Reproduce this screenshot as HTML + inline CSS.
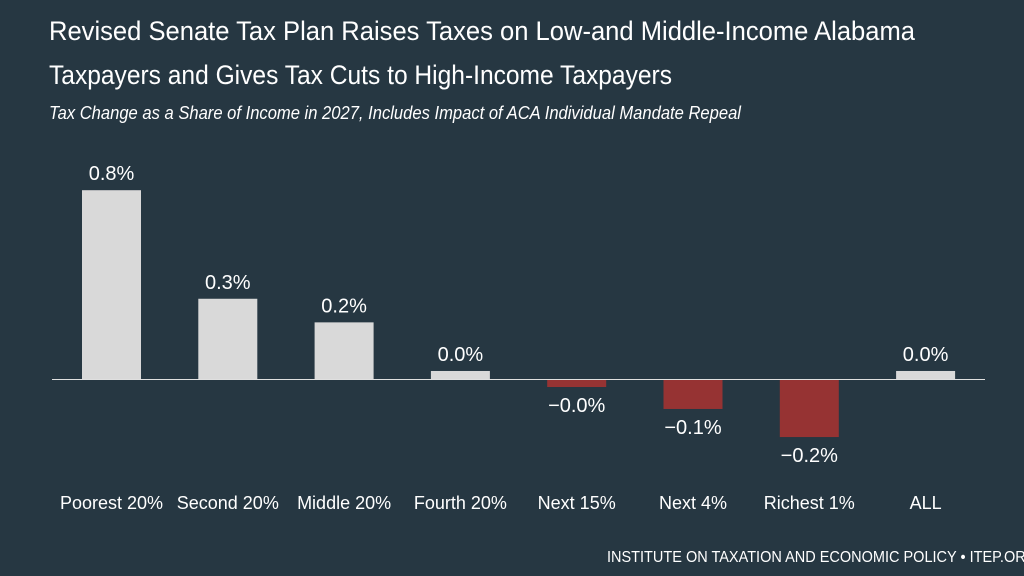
<!DOCTYPE html>
<html><head><meta charset="utf-8"><style>
html,body{margin:0;padding:0;background:#263742;}
svg{display:block;font-family:"Liberation Sans Narrow","Liberation Sans",sans-serif;}
</style></head><body>
<svg id="chart" width="1024" height="576" viewBox="0 0 1024 576" xmlns="http://www.w3.org/2000/svg">
<rect width="1024" height="576" fill="#263742"/>
<text x="49" y="40" fill="#fff" font-size="27" textLength="866" lengthAdjust="spacingAndGlyphs">Revised Senate Tax Plan Raises Taxes on Low-and Middle-Income Alabama</text>
<text x="49" y="84" fill="#fff" font-size="27" textLength="623" lengthAdjust="spacingAndGlyphs">Taxpayers and Gives Tax Cuts to High-Income Taxpayers</text>
<text x="49" y="119" fill="#fff" font-size="18" font-style="italic" textLength="692" lengthAdjust="spacingAndGlyphs">Tax Change as a Share of Income in 2027, Includes Impact of ACA Individual Mandate Repeal</text>
<g id="bars"></g>
<line x1="52" y1="379.5" x2="985" y2="379.5" stroke="#e0e0e0" stroke-width="1"/>
<text x="607" y="562" fill="#fff" font-size="15.5" textLength="430" lengthAdjust="spacingAndGlyphs">INSTITUTE ON TAXATION AND ECONOMIC POLICY • ITEP.ORG</text>
</svg>
<script>
const categories = ["Poorest 20%","Second 20%","Middle 20%","Fourth 20%","Next 15%","Next 4%","Richest 1%","ALL"];
const values = [0.80, 0.34, 0.24, 0.034, -0.034, -0.127, -0.246, 0.034];
const valueLabels = ["0.8%","0.3%","0.2%","0.0%","\u22120.0%","\u22120.1%","\u22120.2%","0.0%"];
const NS = "http://www.w3.org/2000/svg";
const zeroY = 379;
const pxPerUnit = 236;
function yScale(v){ return zeroY - v * pxPerUnit; }
function xCenter(i){ return 111.5 + i * 116.3; }
const barW = 59;
const g = document.getElementById("bars");
categories.forEach((c, i) => {
  const v = values[i];
  const y0 = yScale(Math.max(v, 0)), y1 = yScale(Math.min(v, 0));
  const r = document.createElementNS(NS, "rect");
  
  
  r.setAttribute("x", xCenter(i) - barW / 2);
  r.setAttribute("y", y0);
  r.setAttribute("width", barW);
  r.setAttribute("height", Math.max(y1 - y0, 0));
  r.setAttribute("fill", v >= 0 ? "#d9d9d9" : "#963333");
  g.appendChild(r);
  const t = document.createElementNS(NS, "text");
  
  
  t.setAttribute("x", xCenter(i));
  t.setAttribute("y", v >= 0 ? y0 - 10 : y1 + 25);
  t.setAttribute("text-anchor", "middle");
  t.setAttribute("fill", "#fff");
  t.setAttribute("font-size", "20");
  t.textContent = valueLabels[i];
  g.appendChild(t);
  const l = document.createElementNS(NS, "text");
  
  
  l.setAttribute("x", xCenter(i));
  l.setAttribute("y", 509);
  l.setAttribute("text-anchor", "middle");
  l.setAttribute("fill", "#fff");
  l.setAttribute("font-size", "18");
  l.textContent = c;
  g.appendChild(l);
});
</script>
</body></html>
